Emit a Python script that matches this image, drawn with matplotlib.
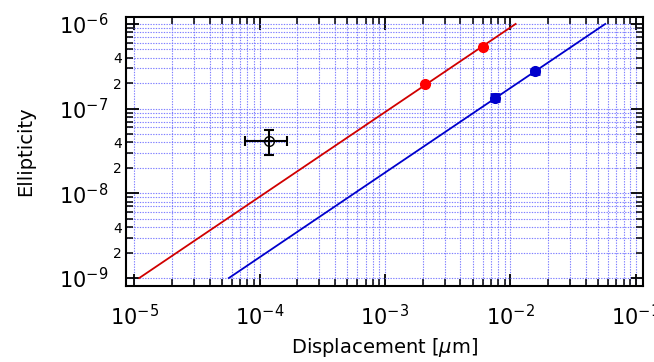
import matplotlib
matplotlib.use("Agg")
import matplotlib.pyplot as plt
from matplotlib.ticker import FixedLocator, FixedFormatter, NullFormatter
import numpy as np

plt.rcParams['font.family'] = ['DejaVu Sans']
plt.rcParams['mathtext.fontset'] = 'dejavusans'

# Data
red_x = [2.1e-3, 6.0e-3]
red_y = [1.95e-7, 5.3e-7]
red_yerr = [0.12e-7, 0.3e-7]
blue_x = [7.6e-3, 1.58e-2]
blue_y = [1.35e-7, 2.75e-7]
blue_yerr = [0.12e-7, 0.2e-7]
red_line_x = [1.1e-5, 1.1e-2]
red_line_y = [1.0e-9, 1.0e-6]
blue_line_x = [5.7e-5, 5.7e-2]
blue_line_y = [1.0e-9, 1.0e-6]
ref_x = [1.2e-4]
ref_y = [4.2e-8]
ref_xerr_lo = [1.2e-4 - 7.6e-5]
ref_xerr_hi = [1.67e-4 - 1.2e-4]
ref_yerr_lo = [4.2e-8 - 2.82e-8]
ref_yerr_hi = [5.66e-8 - 4.2e-8]

x_major = [1e-5, 1e-4, 1e-3, 1e-2, 1e-1]
x_major_labels = ["$\\mathregular{10^{-5}}$", "$\\mathregular{10^{-4}}$",
                  "$\\mathregular{10^{-3}}$", "$\\mathregular{10^{-2}}$",
                  "$\\mathregular{10^{-1}}$"]
y_major = [1e-9, 1e-8, 1e-7, 1e-6]
y_major_labels = ["$\\mathregular{10^{-9}}$", "$\\mathregular{10^{-8}}$",
                  "$\\mathregular{10^{-7}}$", "$\\mathregular{10^{-6}}$"]

fig = plt.figure(figsize=(6.54, 3.62), dpi=100)
ax = fig.add_axes([0.1927, 0.21, 0.983 - 0.1927, 0.953 - 0.21])
ax.set_xscale('log')
ax.set_yscale('log')

ax.plot(red_line_x, red_line_y, color='#d00000', lw=1.3, zorder=3)
ax.plot(blue_line_x, blue_line_y, color='#0000cc', lw=1.3, zorder=3)
ax.errorbar(red_x, red_y, yerr=red_yerr, fmt='o', color='#ff0000', ms=7,
            capsize=3, elinewidth=1.2, zorder=4)
ax.errorbar(blue_x, blue_y, yerr=blue_yerr, fmt='o', color='#0000cc', ms=7,
            capsize=3.5, elinewidth=1.5, capthick=2, zorder=4)
ax.errorbar(ref_x, ref_y, xerr=[ref_xerr_lo, ref_xerr_hi],
            yerr=[ref_yerr_lo, ref_yerr_hi], fmt='o', mfc='none', mec='black',
            color='black', ms=7, capsize=3.3, elinewidth=1.5, capthick=1.5, zorder=4)

ax.set_xlim(10**-5.064, 10**-0.944)
ax.set_ylim(10**-9.094, 10**-5.918)

# ticks
ax.xaxis.set_major_locator(FixedLocator(x_major))
ax.xaxis.set_major_formatter(FixedFormatter(x_major_labels))
xminor = [m * 10.0**e for e in range(-5, -1) for m in range(2, 10)]
ax.xaxis.set_minor_locator(FixedLocator(xminor))
ax.xaxis.set_minor_formatter(NullFormatter())

ax.yaxis.set_major_locator(FixedLocator(y_major))
ax.yaxis.set_major_formatter(FixedFormatter(y_major_labels))
yminor = [m * 10.0**e for e in range(-9, -6) for m in range(2, 10)]
yminor_labels = [str(m) if m in (2, 4) else "" for e in range(-9, -6) for m in range(2, 10)]
ax.yaxis.set_minor_locator(FixedLocator(yminor))
ax.yaxis.set_minor_formatter(FixedFormatter(yminor_labels))

ax.tick_params(which='both', direction='in', top=True, right=True, color='black')
ax.tick_params(which='major', length=9, width=1.3, labelsize=15)
ax.tick_params(which='minor', length=5, width=1.1, labelsize=10, pad=3)
ax.tick_params(axis='x', which='major', pad=13)
ax.tick_params(axis='y', which='major', pad=13)

for s in ax.spines.values():
    s.set_linewidth(1.5)

ax.grid(True, which='both', color='#7070ff', linestyle=(0, (1.2, 1.2)), lw=0.8, alpha=0.9)
ax.set_axisbelow(True)

ax.set_xlabel("Displacement [$\\mathit{\\mu}$m]", fontsize=14, labelpad=5)
ax.set_ylabel("Ellipticity", fontsize=14, labelpad=17)

fig.savefig("out.png", dpi=100)
